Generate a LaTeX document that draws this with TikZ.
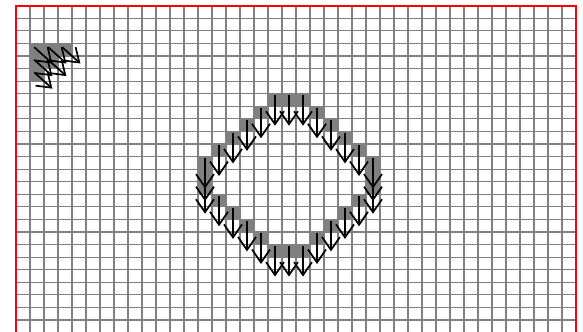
\documentclass[tikz,border=0pt]{standalone}
\usetikzlibrary{arrows.meta}

\tikzset{
  gridline/.style={draw=gray, line width=1.1pt},
  redframe/.style={draw=red, line width=2pt},
  cellfill/.style={fill=gray},
  flow/.style={-{Straight Barb[length=13pt,width=18pt]}, line width=1.7pt, black},
}

\begin{document}
\begin{tikzpicture}[x=14pt,y=-12.57pt]
\useasboundingbox (-1.142857,-0.4535) rectangle (40.5,25.958);
\coordinate (NW) at (0,0);
\coordinate (NE) at (40,0);
\coordinate (SW) at (0,26);
\coordinate (SE) at (40,26);

\foreach \i in {1,...,39}
  \draw[gridline] (\i,0) -- (\i,26);
\foreach \j in {1,...,25}
  \draw[gridline] (0,\j) -- (40,\j);

% small staircase, top left
\foreach \c/\r in {1/3,2/3,3/3,1/4,2/4,1/5}
  \fill[cellfill] (\c,\r) rectangle ++(1,1);

% diamond ring
\foreach \c/\r in {18/7,19/7,20/7,17/8,16/9,15/10,14/11,13/12,13/13,13/14,
                   14/15,15/16,16/17,17/18,18/19,19/19,20/19,21/18,22/17,
                   23/16,24/15,25/12,25/13,25/14,24/11,23/10,22/9,21/8}
  \fill[cellfill] (\c,\r) rectangle ++(1,1);

\draw[redframe] (NW) -- (NE) -- (SE) -- (SW) -- cycle;

\foreach \c/\r in {1/3,2/3,3/3,1/4,2/4,1/5}
  \draw[flow] (\c+0.3,\r+0.3) -- (\c+1.6,\r+1.6);

\foreach \c/\r in {18/7,19/7,20/7,17/8,16/9,15/10,14/11,13/12,13/13,13/14,
                   14/15,15/16,16/17,17/18,18/19,19/19,20/19,21/18,22/17,
                   23/16,24/15,25/12,25/13,25/14,24/11,23/10,22/9,21/8}
  \draw[flow] (\c+0.5,\r+0.1) -- (\c+0.5,\r+2.55);
\end{tikzpicture}
\end{document}
